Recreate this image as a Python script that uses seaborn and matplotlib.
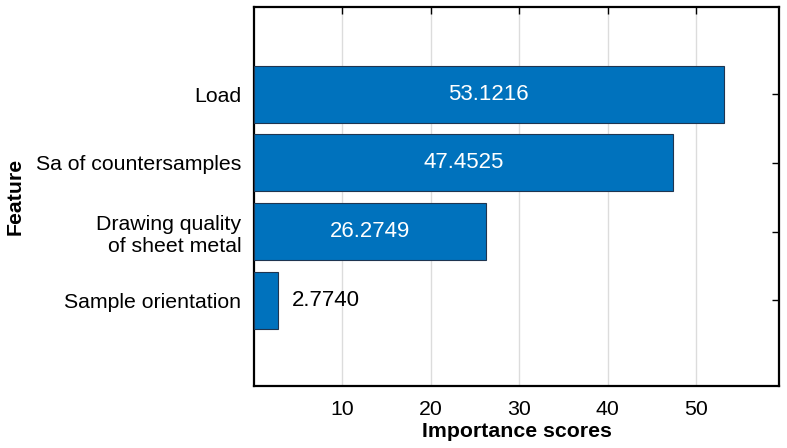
import pandas as pd
import seaborn as sns
import matplotlib.pyplot as plt

# Feature importance values
features = ['Load', 'Sa of countersamples', 'Drawing quality\nof sheet metal', 'Sample orientation']
scores = [53.1216, 47.4525, 26.2749, 2.7740]

df = pd.DataFrame({'feature': features, 'score': scores})

sns.set_style('white')
plt.rcParams['font.family'] = ['Liberation Sans', 'DejaVu Sans']
plt.rcParams['text.color'] = 'black'
plt.rcParams['axes.labelcolor'] = 'black'
plt.rcParams['xtick.color'] = 'black'
plt.rcParams['ytick.color'] = 'black'

fig = plt.figure(figsize=(7.87, 4.48), dpi=100)
ax = fig.add_axes([0.3227, 0.1384, 0.6672, 0.8456])

sns.barplot(data=df, x='score', y='feature', orient='h', color='#0072BD',
            saturation=1, width=0.83, edgecolor='#1f3550', linewidth=0.8, ax=ax, zorder=3)

ax.set_xlim(0, 59.4)
ax.set_ylim(3 + 1.25, -1.27)
ax.set_xticks([10, 20, 30, 40, 50])
ax.grid(True, axis='x', color='#dcdcdc', linewidth=1, zorder=0)
ax.set_axisbelow(True)

for i, v in enumerate(scores):
    if v > 10:
        ax.text(v / 2, i, f'{v:.4f}', color='white', ha='center', va='center', fontsize=16, zorder=5)
    else:
        ax.text(v + 1.5, i, f'{v:.4f}', color='black', ha='left', va='center', fontsize=16, zorder=5)

ax.tick_params(axis='both', which='major', direction='in', length=5, width=1, labelsize=15.3,
               top=True, right=True)
ax.tick_params(axis='y', pad=9)
ax.tick_params(axis='x', pad=10)
for s in ax.spines.values():
    s.set_color('black')
    s.set_linewidth(1.6)

ax.set_xlabel('Importance scores', fontsize=15.3, fontweight='bold', labelpad=2)
ax.set_ylabel('Feature', fontsize=15.3, fontweight='bold', labelpad=8)

fig.savefig('out.png', dpi=100)
